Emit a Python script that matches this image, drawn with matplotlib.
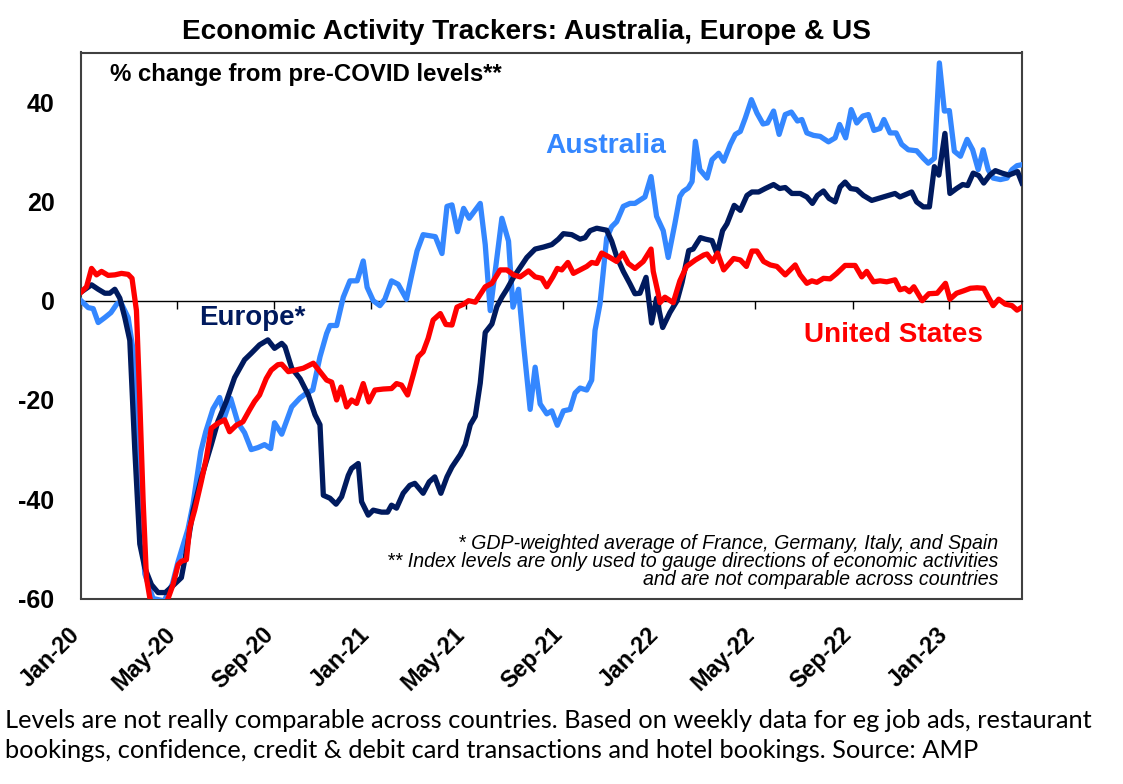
import numpy as np
import pandas as pd
import matplotlib
matplotlib.use("Agg")
import matplotlib.pyplot as plt
import matplotlib.dates as mdates

# ---- data: x = weeks since 1 Jan 2020, y = % change from pre-COVID level ----
start = pd.Timestamp("2020-01-01")

aus_wk = [0.0, 1.3, 2.2, 3.1, 4.3, 5.4, 6.5, 7.2, 8.5, 9.4, 10.5, 11.5, 13.0, 15.0, 16.5,
          17.5, 19.3, 20.2, 21.6, 22.5, 23.8, 25.0, 25.9, 27.0, 28.3, 29.5, 30.7, 31.9, 33.1,
          34.2, 34.9, 36.2, 38.0, 39.5, 40.7, 41.8, 43.1, 44.3, 44.9, 46.1, 47.3, 48.5, 49.8,
          50.9, 51.6, 52.7, 53.9, 54.8, 56.0, 57.2, 58.7, 59.7, 60.6, 61.7, 63.9, 65.1, 66.0,
          66.9, 67.9, 69.0, 70.0, 72.0, 72.9, 73.8, 75.9, 77.1, 77.9, 78.9, 79.8, 81.0, 81.9,
          82.8, 84.0, 84.9, 85.9, 87.0, 88.2, 89.1, 90.0, 91.2, 92.1, 92.7, 93.6, 94.8, 95.7,
          96.6, 97.8, 99.0, 99.9, 101.7, 102.8, 103.8, 105.0, 105.9, 107.1, 108.0, 108.6,
          109.5, 110.2, 110.8, 111.6, 112.9, 113.8, 115.0, 115.9, 117.1, 118.0, 118.9, 119.8,
          120.9, 121.9, 123.0, 123.8, 124.9, 125.9, 127.0, 128.1, 129.2, 130.0, 130.9, 132.1,
          133.3, 134.8, 136.0, 136.8, 137.9, 138.9, 139.9, 141.0, 142.0, 143.0, 144.1, 144.8,
          145.9, 147.0, 148.0, 149.2, 150.7, 151.9, 152.8, 153.9, 154.8, 155.7, 156.6, 157.5,
          158.6, 159.8, 160.8, 161.8, 162.7, 163.6, 164.5, 165.8, 167.0, 167.9, 168.8, 169.7]
aus_val = [0, -1.4, -1.6, -4.4, -3.4, -2.4, -0.6, -0.4, -3.4, -10, -35, -55, -60, -60.5, -57,
           -52.6, -46, -41, -30.4, -26.4, -21.8, -19.5, -23.4, -19.7, -24.6, -26.6, -30, -29.6, -29,
           -29.8, -24.6, -26.9, -21.4, -19.6, -18.6, -18, -11.3, -6.6, -5, -5, 0.7, 4, 4,
           8, 2.7, 0, -1, 0.3, 4, 3.3, 0.3, 5.5, 10, 13.3, 12.9, 9.5, 19,
           19.3, 13.9, 18.6, 16.6, 19.6, 11.3, -2, 16.6, 12, -1.3, 2.3, -8.7, -21.9, -13.4,
           -20.8, -22.8, -22.2, -25.1, -22.2, -21.9, -18.6, -17.6, -18, -16, -6, -0.6, 12.6, 14.9,
           15.9, 19, 19.6, 19.6, 20.9, 25, 17, 14.1, 8.7, 15.5, 21, 22,
           22.7, 24, 32.1, 26.4, 24.7, 28.4, 29.7, 28.1, 31.5, 33.5, 34.1, 36.8,
           40.5, 37.8, 35.6, 35.8, 38.2, 33.5, 37.5, 38, 36.2, 36.5, 33.8, 33.3,
           33.1, 32, 32.8, 35.5, 32.8, 38.5, 35.8, 37.2, 37.5, 34.3, 34.7, 36.5,
           33.8, 33.8, 31.5, 30.4, 30.2, 28.7, 27.7, 28.7, 47.9, 38.2, 38.3, 30.1,
           29.1, 32.5, 30.4, 26.4, 30.4, 26.4, 24.7, 24.4, 24.7, 26.4, 27.2, 27.4]

eur_wk = [0.1, 1.9, 3.1, 4.3, 5.2, 6.1, 7.0, 7.9, 8.8, 9.7, 10.6, 11.5, 12.7, 13.9, 15.2,
          16.6, 18.1, 19.0, 20.2, 21.7, 23.5, 24.7, 26.2, 27.7, 29.5, 30.7, 32.2, 33.7, 34.9,
          36.2, 36.8, 38.0, 39.5, 41.0, 42.2, 43.1, 43.7, 44.9, 46.0, 47.0, 48.2, 48.8, 50.0,
          50.6, 51.8, 52.7, 54.2, 55.3, 56.0, 56.9, 58.1, 59.3, 60.2, 61.7, 62.8, 63.8, 64.9,
          66.0, 66.9, 68.4, 69.3, 70.2, 71.1, 72.0, 72.9, 74.1, 75.0, 75.9, 76.8, 78.0, 79.2,
          80.4, 81.9, 83.4, 84.9, 86.1, 87.0, 88.5, 90.0, 90.9, 91.8, 93.0, 94.8, 95.7, 96.6,
          97.8, 99.0, 99.9, 100.8, 101.9, 102.9, 103.8, 104.9, 106.2, 107.5, 108.4, 109.6,
          110.4, 111.7, 112.6, 113.8, 114.7, 115.7, 116.5, 117.8, 118.9, 120.1, 121.0, 122.2,
          123.4, 124.9, 126.0, 127.0, 128.2, 129.7, 130.9, 131.9, 132.8, 133.9, 134.9, 136.0,
          136.9, 137.8, 138.8, 139.9, 141.1, 142.6, 143.8, 145.6, 146.8, 147.7, 149.8, 150.7,
          151.9, 153.0, 153.9, 154.7, 155.8, 156.7, 157.9, 159.0, 159.9, 160.9, 161.9, 162.8,
          163.9, 164.9, 166.1, 167.3, 168.9, 169.7]
eur_val = [1.8, 3.2, 2.3, 1.5, 1.5, 2.3, 0.5, -3.4, -8, -30, -49, -53.8, -57.2, -58.8, -58.8,
           -57.4, -55.8, -50.5, -42.4, -35.7, -29, -24.3, -20.3, -15.5, -11.9, -10.6, -8.9, -7.9, -9.6,
           -8.6, -9.3, -13.6, -15.7, -19, -23, -25, -39.2, -39.8, -41, -39.5, -35.2, -33.8, -32.8,
           -40.5, -43.2, -42.2, -42.6, -42.6, -41.2, -41.8, -38.8, -37.2, -36.8, -38.8, -36.5, -35.5, -38.8,
           -35.5, -33.5, -31, -29, -25, -23.3, -16.6, -6.4, -4.7, -1.2, 0.7, 2.3, 4.7, 6.7,
           8.7, 10.4, 10.8, 11.3, 12.4, 13.5, 13.3, 12.4, 12.7, 14.1, 14.6, 14.2, 12, 8.9,
           5.9, 3.4, 1.4, 1.5, 4.7, -4.5, 0.5, -5.4, -2.4, 0, 3.7, 10.1,
           10.4, 12.7, 12.4, 12.1, 9.4, 14.1, 15.5, 19.2, 18.2, 21.2, 21.9, 21.9,
           22.6, 23.4, 22.6, 22.8, 21.6, 21.6, 20.9, 19.6, 21.2, 22.1, 20.6, 19.9,
           22.9, 23.9, 22.6, 22.4, 21.2, 20.2, 20.6, 21.2, 21.6, 20.9, 21.9, 19.9,
           18.9, 18.9, 27, 25.3, 33.7, 21.6, 22.6, 23.4, 23.2, 25.7, 25.2, 23.7,
           25.3, 26.2, 25.7, 25.3, 26, 23.7]

us_wk = [0.1, 1.0, 1.9, 2.8, 3.7, 4.9, 6.1, 7.3, 8.5, 9.2, 10.0, 10.6, 11.2, 11.8, 12.4,
         13.3, 14.6, 15.7, 16.6, 17.5, 18.1, 19.0, 19.6, 20.5, 21.7, 22.6, 23.5, 24.7, 25.9,
         26.8, 28.0, 29.2, 30.4, 31.3, 32.2, 33.4, 34.3, 35.5, 36.2, 37.4, 38.6, 40.1, 41.9,
         43.1, 44.3, 45.2, 46.1, 46.9, 47.9, 48.8, 49.7, 50.9, 51.9, 53.0, 54.5, 56.0, 56.9,
         57.8, 58.9, 59.9, 60.8, 61.7, 62.6, 63.5, 64.8, 65.8, 66.9, 67.8, 69.0, 69.9, 71.1,
         72.9, 74.1, 75.6, 76.8, 78.0, 79.2, 80.7, 81.9, 83.1, 84.0, 85.1, 85.9, 86.7, 87.8,
         88.8, 90.0, 91.2, 92.1, 93.0, 93.9, 95.1, 96.6, 97.7, 98.7, 99.9, 101.4, 102.8, 103.2,
         104.1, 104.4, 105.3, 106.8, 108.0, 109.2, 110.8, 112.3, 112.9, 113.9, 114.8, 115.9,
         117.7, 118.9, 120.0, 121.0, 121.9, 123.1, 124.3, 125.5, 127.0, 128.8, 129.7, 130.9,
         131.8, 132.7, 133.9, 135.1, 136.3, 137.8, 139.6, 140.8, 141.7, 142.9, 144.1, 145.3,
         146.8, 147.7, 148.6, 149.4, 150.2, 151.7, 152.9, 154.4, 155.9, 156.7, 157.9, 159.2,
         160.4, 161.6, 162.8, 163.6, 164.5, 165.5, 166.7, 167.9, 168.8, 169.7]
us_val = [1.8, 2.8, 6.5, 5.2, 5.9, 5.1, 5.2, 5.5, 5.3, 4.5, -2, -20.1, -40.2, -55.8, -59.8,
          -63, -63, -60, -57.2, -53.2, -52.5, -52.2, -45.8, -42.2, -36.4, -31.7, -25.7, -24.7, -24,
          -26.4, -25.1, -24.4, -22, -20.3, -19, -15.7, -14, -12.9, -12.8, -14.3, -14, -13.6, -12.6,
          -14.3, -16, -16.4, -20, -17.4, -21.4, -20, -20.7, -16.7, -20.4, -18, -17.8, -17.7, -16.7,
          -17, -19, -15, -11.3, -10.3, -7.6, -3.9, -2.6, -4.8, -4.9, -1.3, -0.7, 0, -0.3,
          2.8, 3.5, 6.2, 6.2, 5.2, 4.8, 6, 4.8, 4.5, 2.8, 4.8, 6.5, 6.2, 7.7,
          5.5, 6.2, 6.9, 7.7, 7.5, 9.6, 8.9, 7.9, 9.6, 7.5, 6.5, 7.9, 10.4, 5.9,
          1.4, -0.4, 0.7, -0.4, 4, 6.9, 8.2, 9.2, 9.4, 7.9, 9.6, 6.2,
          8.5, 8.2, 6.9, 10, 10, 7.9, 7.2, 6.9, 5.2, 7.2, 5.2, 3.5,
          4, 3.7, 4.5, 4.4, 5.5, 7.1, 7.1, 4.8, 5.9, 3.8, 4, 3.8,
          4.2, 2.2, 2.5, 1.8, 2.8, 0, 1.4, 1.5, 3.5, 0.3, 1.5, 2,
          2.5, 2.6, 2.5, 0.8, -1, 0.3, -0.7, -1, -1.9, -1.3]

yticks = [-60, -40, -20, 0, 20, 40]

def to_dates(weeks):
    return start + pd.to_timedelta(np.array(weeks) * 7, unit="D")

aus_d, eur_d, us_d = to_dates(aus_wk), to_dates(eur_wk), to_dates(us_wk)

# ---- styling ----
C_AUS = "#3487FF"
C_EUR = "#001A5E"
C_US = "#FF0000"
FONT = ["Liberation Sans", "DejaVu Sans"]
plt.rcParams["font.family"] = FONT

W, H = 1123, 784
fig = plt.figure(figsize=(W / 100, H / 100), dpi=100)
ax = fig.add_axes([81 / W, 1 - 598.5 / H, 941 / W, 546 / H])

LW = 3.8
ax.plot(aus_d, aus_val, color=C_AUS, lw=LW, solid_joinstyle="round", zorder=3)
ax.plot(eur_d, eur_val, color=C_EUR, lw=LW, solid_joinstyle="round", zorder=4)
ax.plot(us_d, us_val, color=C_US, lw=LW, solid_joinstyle="round", zorder=5)

ax.set_ylim(-60, 50)
ax.set_xlim(start, max(aus_d.max(), eur_d.max(), us_d.max()))

# y axis
ax.set_yticks(yticks)
ax.set_yticklabels([str(v) for v in yticks], fontsize=18, fontweight="bold")
ax.tick_params(axis="y", length=0, pad=19)

# zero line carries the tick marks
ax.spines["bottom"].set_position(("data", 0))
ax.spines["bottom"].set_linewidth(1.0)
ax.spines["bottom"].set_color("black")
ax.xaxis.set_major_locator(mdates.MonthLocator(bymonth=[1, 5, 9]))
ax.tick_params(axis="x", direction="out", length=6, width=1, labelbottom=False)

for s in ["left", "right", "top"]:
    ax.spines[s].set_color("#404040")
    ax.spines[s].set_linewidth(1.5)

# secondary axis at the bottom of the box carries the labels
sec = ax.secondary_xaxis("bottom")
sec.xaxis.set_major_locator(mdates.MonthLocator(bymonth=[1, 5, 9]))
sec.xaxis.set_major_formatter(mdates.DateFormatter("%b-%y"))
sec.tick_params(axis="x", length=0, pad=27, labelsize=16.8)
sec.spines["bottom"].set_color("#404040")
sec.spines["bottom"].set_linewidth(1.5)

# in-chart text
ax.text(0.031, 0.959, "% change from pre-COVID levels**", transform=ax.transAxes,
        fontsize=17.3, fontweight="bold", ha="left", va="center", color="black")
ax.text(0.558, 0.829, "Australia", transform=ax.transAxes, fontsize=20.3,
        fontweight="bold", color=C_AUS, ha="center", va="center")
ax.text(0.182, 0.514, "Europe*", transform=ax.transAxes, fontsize=20,
        fontweight="bold", color=C_EUR, ha="center", va="center")
ax.text(0.863, 0.483, "United States", transform=ax.transAxes, fontsize=20.1,
        fontweight="bold", color=C_US, ha="center", va="center")
ax.text(0.9745, 0.067,
        "* GDP-weighted average of France, Germany, Italy, and Spain\n"
        "** Index levels are only used to gauge directions of economic activities\n"
        "and are not comparable across countries",
        transform=ax.transAxes, fontsize=14.1, fontstyle="italic", ha="right",
        va="center", multialignment="right", linespacing=0.93, color="black")

# title
fig.text(527 / W, 1 - 32 / H, "Economic Activity Trackers: Australia, Europe & US",
         fontsize=20.2, fontweight="bold", ha="center", va="center")

# footer
FOOT = ["Lato", "DejaVu Sans"]
fig.text(5 / W, 1 - 721 / H,
         "Levels are not really comparable across countries. Based on weekly data for eg job ads, restaurant",
         fontsize=18.3, family=FOOT, ha="left", va="center")
fig.text(5 / W, 1 - 751 / H,
         "bookings, confidence, credit & debit card transactions and hotel bookings. Source: AMP",
         fontsize=18.3, family=FOOT, ha="left", va="center")

# style the rotated date labels once all ticks exist
fig.canvas.draw()
for lab in sec.xaxis.get_ticklabels():
    lab.set_rotation(45)
    lab.set_ha("right")
    lab.set_va("baseline")
    lab.set_rotation_mode("anchor")
    lab.set_fontweight("bold")

fig.savefig("out.png", dpi=100)
